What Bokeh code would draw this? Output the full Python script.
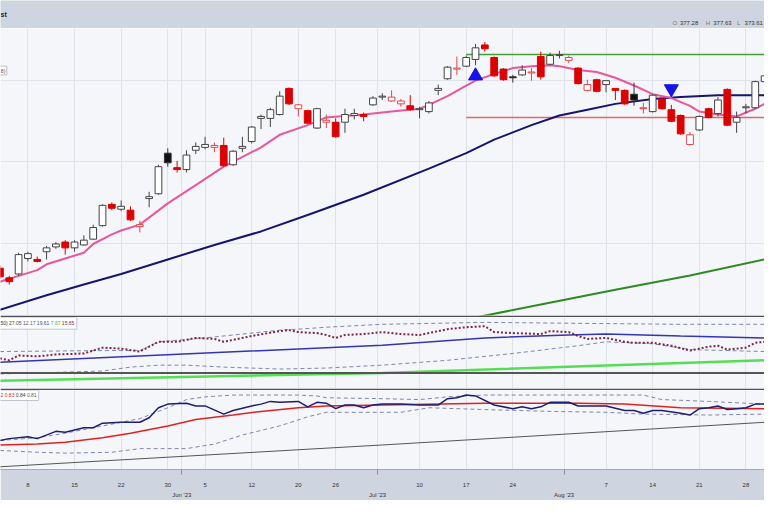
from bokeh.plotting import figure
from bokeh.layouts import column
from bokeh.models import (Range1d, FixedTicker, Grid, Label, BoxAnnotation,
                          Span, LinearAxis, ColumnDataSource)
from bokeh.embed import file_html
from bokeh.resources import INLINE

# ---------------- data (x = trading-day index, 0 = 8 May 2023) ----------------
days = list(range(-3, 80))
opens = [328.00, 325.50, 326.50, 330.50, 330.25, 332.25, 333.50, 334.75, 333.25, 334.00,
         335.50, 339.00, 344.50, 343.25, 343.00, 338.75, 346.00, 347.25, 357.75, 354.00,
         353.50, 358.50, 359.25, 359.25, 359.75, 354.75, 359.00, 360.75, 366.75, 366.75,
         367.75, 374.50, 369.25, 368.75, 364.25, 365.75, 365.75, 365.75, 367.50, 367.75,
         370.25, 372.25, 371.25, 370.50, 370.00, 369.00, 368.50, 374.00, 377.00, 379.50,
         380.25, 382.00, 385.75, 382.50, 379.50, 377.50, 378.00, 378.50, 382.75, 380.75,
         383.00, 381.75, 379.75, 374.00, 376.75, 375.50, 374.50, 374.00, 373.00, 369.25,
         368.50, 371.75, 369.00, 367.50, 360.00, 363.75, 369.25, 368.00, 374.25, 365.75,
         369.50, 369.50, 376.25]
highs = [328.75, 326.00, 332.00, 332.25, 331.00, 333.75, 334.75, 335.25, 335.25, 336.50,
         339.25, 344.50, 345.00, 345.50, 344.00, 340.25, 347.75, 354.75, 359.00, 355.75,
         358.50, 360.50, 362.00, 360.50, 361.75, 358.50, 362.00, 364.75, 367.75, 369.50,
         373.75, 374.75, 370.50, 369.00, 369.50, 367.75, 366.75, 369.25, 369.25, 368.25,
         372.50, 373.25, 374.00, 371.75, 372.75, 369.75, 371.25, 375.50, 380.25, 382.75,
         383.00, 386.00, 386.50, 382.75, 379.75, 378.00, 380.50, 379.75, 384.00, 383.75,
         384.25, 383.00, 380.00, 376.75, 377.00, 376.50, 374.50, 374.25, 376.00, 370.75,
         373.00, 372.00, 370.25, 367.75, 363.25, 367.50, 369.50, 372.25, 374.50, 368.50,
         370.50, 376.50, 378.00]
lows = [325.25, 323.75, 326.00, 329.75, 329.50, 330.25, 333.00, 331.50, 332.25, 333.75,
        335.25, 338.75, 343.00, 342.75, 340.25, 337.25, 343.75, 347.00, 354.25, 352.75,
        352.75, 357.50, 358.75, 358.00, 354.25, 354.50, 358.00, 360.25, 364.00, 364.50,
        367.50, 370.25, 367.25, 365.25, 364.00, 364.25, 361.75, 363.00, 366.50, 366.00,
        370.00, 371.50, 371.00, 369.75, 368.75, 366.75, 368.00, 372.75, 376.75, 378.00,
        380.00, 380.50, 384.00, 377.50, 376.50, 376.00, 377.75, 376.50, 376.75, 380.50,
        382.25, 381.00, 375.50, 373.75, 373.50, 373.50, 371.50, 370.25, 370.00, 368.00,
        368.25, 369.00, 365.75, 362.50, 359.75, 363.50, 366.75, 367.25, 364.75, 363.00,
        368.00, 369.25, 376.00]
closes = [325.75, 324.50, 331.50, 331.75, 329.75, 333.25, 334.25, 333.25, 334.75, 335.25,
          338.50, 344.25, 343.50, 344.00, 340.50, 339.25, 346.50, 354.25, 355.25, 353.50,
          357.25, 359.50, 360.00, 359.75, 354.50, 358.25, 359.50, 364.50, 367.25, 369.00,
          372.50, 370.50, 370.25, 365.50, 369.25, 366.25, 362.00, 367.75, 368.00, 367.25,
          372.00, 372.50, 372.25, 371.25, 369.00, 369.25, 370.75, 374.50, 380.00, 379.75,
          382.50, 385.00, 384.75, 377.75, 376.75, 377.25, 379.25, 378.75, 377.50, 383.00,
          383.25, 382.50, 375.75, 375.50, 373.75, 376.50, 374.00, 370.50, 371.50, 369.50,
          372.75, 369.25, 366.00, 362.75, 362.50, 367.25, 367.00, 371.50, 365.00, 367.00,
          369.75, 376.25, 377.75]

# short moving average (pink)
ma_short_days = [-3, -1, 1, 2, 4, 6, 7, 9, 10, 12, 15, 18, 21, 24, 25, 27, 30, 32, 36, 39, 42,
                 43, 45, 47, 48, 50, 52, 54, 56, 57, 59, 61, 63, 65, 67, 69, 71, 72, 74, 76, 78, 79]
ma_short_vals = [324.50, 326.00, 327.50, 329.00, 330.50, 332.00, 334.25, 336.75, 337.75, 339.25,
                 344.75, 349.50, 354.25, 358.00, 359.25, 362.50, 365.00, 367.00, 367.75, 368.50,
                 369.25, 370.25, 372.50, 375.25, 376.50, 378.25, 379.75, 380.25, 380.50, 380.25,
                 379.25, 378.75, 377.25, 375.25, 373.00, 372.00, 370.00, 368.50, 367.75, 367.25,
                 369.25, 370.50]
# 50-day average (navy)
ma_mid_days = [-3, 2, 6, 10, 15, 20, 25, 30, 36, 43, 47, 50, 54, 57, 60, 63, 67, 70, 74, 79]
ma_mid_vals = [317.25, 321.00, 323.75, 326.50, 330.25, 334.00, 337.50, 341.75, 347.00, 353.75,
               357.75, 361.25, 365.00, 367.50, 369.00, 370.50, 371.75, 372.25, 372.75, 372.75]
# 200-day average (green)
ma_long_days = [47, 55, 63, 71, 79]
ma_long_vals = [314.75, 318.60, 322.40, 326.10, 330.25]
# horizontal levels
level_from_day = 47
resistance_level = 383.25
support_level = 367.00
# signal markers
signal_up_day = [48]
signal_up_price = [377.75]
signal_dn_day = [69]
signal_dn_price = [374.40]

# ---- middle indicator panel ----
ind1_dot_days = [-3, -2, -1, 1, 3, 6, 8, 10, 12, 14, 16, 18, 20, 21, 24, 27, 28, 29, 31, 32,
                 33, 34, 36, 38, 40, 42, 45, 47, 49, 50, 52, 55, 56, 58, 59, 60, 62, 64, 65, 67,
                 69, 71, 73, 74, 75, 77, 78, 79]
ind1_dot_vals = [12.8, 12.0, 14.0, 13.6, 14.4, 14.8, 17.2, 16.8, 15.6, 19.6,
                 19.6, 21.2, 20.8, 19.6, 22.0, 24.0, 24.4, 23.6, 23.2, 22.4,
                 21.2, 22.4, 22.8, 23.6, 22.8, 22.4, 24.8, 25.6, 26.0, 23.6,
                 23.2, 22.8, 24.0, 23.6, 22.0, 20.8, 21.2, 19.6, 19.2, 19.2,
                 18.0, 16.0, 17.6, 18.0, 16.4, 17.2, 19.2, 19.6]
ind1_upper_days = [-3, 8, 12, 14, 19, 22, 27, 29, 32, 38, 49, 59, 70, 79]
ind1_upper_vals = [15.6, 16.0, 16.0, 19.6, 21.2, 22.4, 24.4, 24.8, 25.6, 26.8, 27.6, 27.2, 26.8, 26.8]
ind1_lower_days = [-3, 1, 8, 11, 14, 17, 21, 27, 32, 38, 45, 52, 59, 62, 67, 71, 79]
ind1_lower_vals = [6.4, 6.8, 7.6, 9.2, 10.0, 10.0, 9.2, 8.4, 8.8, 10.0, 12.0, 14.8, 18.0, 19.6,
                   18.8, 16.4, 15.6]
ind1_blue_days = [-3, 38, 49, 58, 62, 70, 79]
ind1_blue_vals = [11.2, 18.2, 21.2, 22.4, 22.8, 22.0, 21.2]
ind1_green_days = [-3, 38, 79]
ind1_green_vals = [3.6, 6.8, 12.0]
ind1_ref_level = 6.8
ind1_legend = ["50)", "27.05", "12.17", "19.61", "7.67", "15.65"]

# ---- lower indicator panel ----
ind2_navy_days = [-3, -2, 0, 1, 3, 4, 6, 7, 8, 10, 12, 13, 14, 15, 17, 18, 19, 21, 22, 24, 25,
                  26, 27, 29, 30, 31, 32, 33, 34, 35, 36, 37, 38, 40, 42, 44, 45, 46, 47, 48, 50,
                  52, 53, 54, 55, 56, 58, 59, 62, 64, 65, 66, 67, 68, 70, 71, 72, 73, 74, 75, 76,
                  77, 78, 79]
ind2_navy_vals = [0.44, 0.46, 0.48, 0.46, 0.54, 0.53, 0.58, 0.58, 0.63, 0.64, 0.64, 0.69, 0.80,
                  0.84, 0.85, 0.82, 0.82, 0.73, 0.77, 0.82, 0.84, 0.87, 0.86, 0.87, 0.81, 0.86,
                  0.85, 0.79, 0.83, 0.83, 0.80, 0.83, 0.84, 0.84, 0.83, 0.83, 0.90, 0.91, 0.94,
                  0.93, 0.83, 0.79, 0.81, 0.79, 0.81, 0.86, 0.86, 0.82, 0.82, 0.77, 0.77, 0.74,
                  0.77, 0.77, 0.74, 0.72, 0.79, 0.80, 0.82, 0.78, 0.79, 0.80, 0.84, 0.84]
ind2_red_days = [-3, 1, 4, 8, 11, 15, 18, 22, 25, 29, 32, 38, 49, 59, 64, 70, 79]
ind2_red_vals = [0.39, 0.40, 0.42, 0.47, 0.52, 0.60, 0.67, 0.72, 0.76, 0.80, 0.82, 0.83, 0.85,
                 0.85, 0.84, 0.80, 0.79]
ind2_upper_days = [-3, 1, 4, 8, 12, 15, 17, 19, 22, 29, 31, 32, 38, 42, 45, 49, 56, 66, 68, 73, 79]
ind2_upper_vals = [0.44, 0.47, 0.52, 0.60, 0.68, 0.80, 0.89, 0.92, 0.94, 0.94, 0.93, 0.91, 0.90,
                   0.89, 0.92, 0.94, 0.94, 0.94, 0.89, 0.87, 0.84]
ind2_lower_days = [-3, 1, 4, 9, 12, 17, 20, 23, 27, 30, 32, 38, 40, 43, 49, 56, 62, 66, 73, 79]
ind2_lower_vals = [0.33, 0.31, 0.30, 0.31, 0.35, 0.35, 0.40, 0.50, 0.60, 0.70, 0.75, 0.75, 0.75,
                   0.80, 0.78, 0.76, 0.75, 0.73, 0.72, 0.73]
ind2_gray_days = [-3, 38, 79]
ind2_gray_vals = [0.15, 0.39, 0.64]
ind2_legend = ["2", "0.83", "0.84", "0.81"]

# ---- axis ----
tick_days = [0, 5, 10, 15, 19, 24, 29, 33, 42, 47, 52, 62, 67, 72, 77]
tick_labels = ["8", "15", "22", "30", "5", "12", "20", "26", "10", "17", "24", "7", "14", "21", "28"]
month_days = [16.5, 37.5, 57.5]
month_labels = ["Jun '23", "Jul '23", "Aug '23"]

# ---- header ----
title_fragment = "st"
ohlc_names = ["O", "H", "L"]
ohlc_values = ["377.28", "377.63", "373.61"]
price_legend_fragment = "8)"

# ---------------- styling / layout ----------------
FONT = "Liberation Sans"
W = 764
PANEL_BG = "#f5f6fa"
BAND_BG = "#cfd5e0"
GRID_C = "#dfe2e9"
SEP_C = "#505050"
xr = Range1d(-2.94, 78.99)
grid_days = sorted(tick_days + month_days)


def make_fig(h, yr, bg=PANEL_BG, border=SEP_C):
    f = figure(width=W, height=h, x_range=xr, y_range=yr, toolbar_location=None,
               output_backend="svg", x_axis_location=None, y_axis_location=None,
               tools="", min_border=0, background_fill_color=bg, border_fill_color=border,
               outline_line_color=None)
    f.min_border_left = 0
    f.min_border_right = 0
    f.min_border_top = 0
    f.min_border_bottom = 0
    f.grid.visible = False
    return f


def vgrid(f):
    f.add_layout(Grid(dimension=0, ticker=FixedTicker(ticks=grid_days),
                      grid_line_color=GRID_C, grid_line_width=1))


def label(f, x, y, text, color, size="5px", bold=False, align="left"):
    f.add_layout(Label(x=x, y=y, text=text, text_color=color, text_font_size=size,
                       text_font=FONT, text_font_style="bold" if bold else "normal",
                       text_baseline="middle", text_align=align))


# ---------- header ----------
head = make_fig(28, Range1d(0, 1), bg=BAND_BG, border="#a3a9b5")
head.min_border_bottom = 1
label(head, -2.94, 0.5, title_fragment, "#222222", size="7px", bold=True)
ohlc_x = [69.12, 72.69, 76.05]
for nx, nm, val in zip(ohlc_x, ohlc_names, ohlc_values):
    label(head, nx, 0.16, nm, "#777777", size="6px")
    label(head, nx + 0.8, 0.16, val, "#333333", size="6px")

# ---------- price panel ----------
price = make_fig(289, Range1d(315.75, 390.0))
price.min_border_bottom = 2
vgrid(price)
price.add_layout(Grid(dimension=1, ticker=FixedTicker(ticks=[334.5, 355.5, 376.5]),
                      grid_line_color=GRID_C, grid_line_width=1))

price.line(ma_long_days, ma_long_vals, line_color="#2f8a24", line_width=2)
price.segment(x0=[level_from_day], x1=[xr.end + 2], y0=[resistance_level], y1=[resistance_level],
              line_color="#45a035", line_width=1.5)
price.segment(x0=[level_from_day], x1=[xr.end + 2], y0=[support_level], y1=[support_level],
              line_color="#e06a6a", line_width=1.5)
price.line(ma_mid_days, ma_mid_vals, line_color="#15156e", line_width=2)
price.line(ma_short_days, ma_short_vals, line_color="#e8579d", line_width=2)

prev_close = [float("inf")] + closes[:-1]
RED = "#dd0000"
DARK = "#333333"
line_c, fill_c, tops, bots = [], [], [], []
for o, c, pc in zip(opens, closes, prev_close):
    is_red = c < pc
    col = RED if is_red else DARK
    if c >= o:
        line_c.append("#e04848" if is_red else "#444444")
        fill_c.append("#ffffff")
    else:
        line_c.append(col)
        fill_c.append(RED if is_red else "#111111")
    tops.append(max(o, c))
    bots.append(min(o, c))
src = ColumnDataSource(dict(day=days, high=highs, low=lows, top=tops, bottom=bots,
                            lc=line_c, fc=fill_c))
price.segment(x0="day", x1="day", y0="low", y1="high", line_color="lc", line_width=1, source=src)
price.vbar(x="day", width=0.72, top="top", bottom="bottom", fill_color="fc", line_color="lc",
           line_width=1, source=src)

price.scatter(signal_up_day, signal_up_price, marker="triangle", size=14,
              fill_color="#1414e8", line_color="#1414e8")
price.scatter(signal_dn_day, signal_dn_price, marker="inverted_triangle", size=14,
              fill_color="#1414e8", line_color="#1414e8")

price.add_layout(BoxAnnotation(left=-4, right=-2.26, bottom=378.0, top=380.25,
                               fill_color="#ffffff", fill_alpha=1, line_color="#b8bcc6",
                               line_alpha=1, line_width=1))
label(price, -2.9, 379.125, price_legend_fragment, "#444444")

# ---------- indicator panel 1 ----------
ind1 = make_fig(73, Range1d(0.4, 29.6))
ind1.min_border_bottom = 2
vgrid(ind1)
DASH_C = "#7f85ad"
ind1.line(ind1_upper_days, ind1_upper_vals, line_color=DASH_C, line_width=1, line_dash="4 3")
ind1.line(ind1_lower_days, ind1_lower_vals, line_color=DASH_C, line_width=1, line_dash="4 3")
ind1.line(ind1_blue_days, ind1_blue_vals, line_color="#3535b0", line_width=1.5)
ind1.add_layout(Span(location=ind1_ref_level, dimension="width", line_color="#555555",
                     line_width=2))
ind1.line(ind1_green_days, ind1_green_vals, line_color="#55dd55", line_width=2.5)
ind1.line(ind1_dot_days, ind1_dot_vals, line_color="#7b2747", line_width=2, line_dash="2 2")

ind1.add_layout(BoxAnnotation(left=-4, right=5.25, bottom=24.8, top=29.6,
                              fill_color="#ffffff", fill_alpha=1, line_color="#c0c4cc",
                              line_alpha=1, line_width=1))
leg1_x = [-2.94, -2.02, -0.53, 0.96, 2.45, 3.64]
leg1_c = ["#333333", "#444455", "#555566", "#444477", "#33bb33", "#7b2747"]
for lx, t, c in zip(leg1_x, ind1_legend, leg1_c):
    label(ind1, lx, 27.2, t, c)

# ---------- indicator panel 2 + axis ----------
ind2 = make_fig(110, Range1d(0.12, 0.99), border=BAND_BG)
ind2.min_border_bottom = 25
vgrid(ind2)
ind2.line(ind2_gray_days, ind2_gray_vals, line_color="#555555", line_width=1)
ind2.line(ind2_upper_days, ind2_upper_vals, line_color=DASH_C, line_width=1, line_dash="4 3")
ind2.line(ind2_lower_days, ind2_lower_vals, line_color=DASH_C, line_width=1, line_dash="4 3")
ind2.line(ind2_red_days, ind2_red_vals, line_color="#dd2222", line_width=1.5)
ind2.line(ind2_navy_days, ind2_navy_vals, line_color="#1e1e70", line_width=1.5)

ind2.add_layout(BoxAnnotation(left=-4, right=1.16, bottom=0.88, top=0.99,
                              fill_color="#ffffff", fill_alpha=1, line_color="#c0c4cc",
                              line_alpha=1, line_width=1))
leg2_x = [-2.94, -2.49, -1.30, -0.11]
leg2_c = ["#555555", "#dd2222", "#333344", "#555555"]
for lx, t, c in zip(leg2_x, ind2_legend, leg2_c):
    label(ind2, lx, 0.935, t, c)

ax_days = LinearAxis(ticker=FixedTicker(ticks=tick_days, minor_ticks=month_days),
                     major_label_overrides={d: s for d, s in zip(tick_days, tick_labels)},
                     axis_line_color="#a3a9b5", axis_line_width=1,
                     major_tick_line_color=None, major_tick_in=0, major_tick_out=0,
                     minor_tick_line_color="#8a8f9c", minor_tick_in=0, minor_tick_out=5,
                     major_label_standoff=8, major_label_text_font_size="6px",
                     major_label_text_font=FONT, major_label_text_color="#333333")
ax_months = LinearAxis(ticker=FixedTicker(ticks=month_days),
                       major_label_overrides={d: s for d, s in zip(month_days, month_labels)},
                       axis_line_color=None, major_tick_line_color=None,
                       minor_tick_line_color=None, major_tick_in=0, major_tick_out=0,
                       major_label_standoff=2, major_label_text_font_size="6px",
                       major_label_text_font=FONT, major_label_text_color="#333333")
ind2.add_layout(ax_days, "below")
ind2.add_layout(ax_months, "below")

layout = column(head, price, ind1, ind2, spacing=0)
open("out.html", "w").write(file_html(layout, INLINE))
